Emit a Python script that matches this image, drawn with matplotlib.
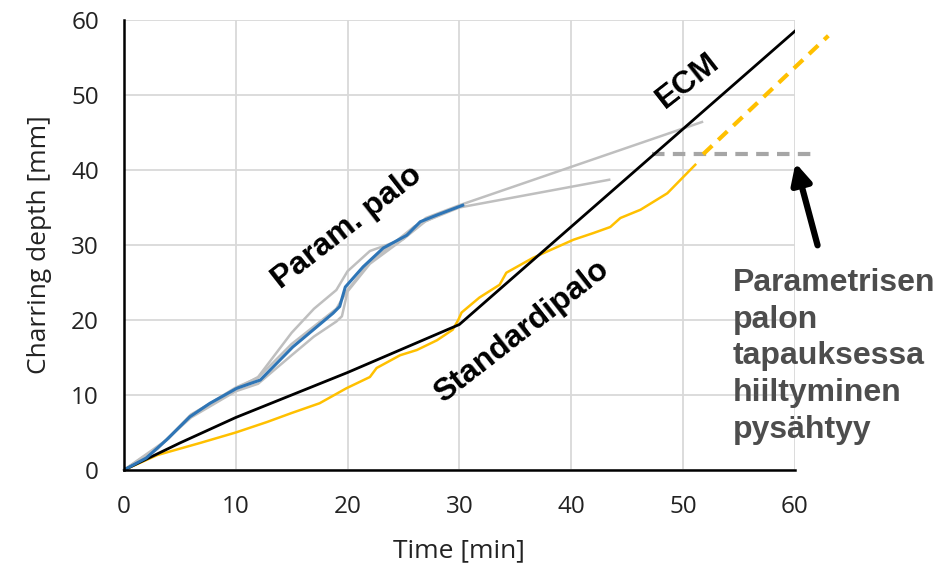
import matplotlib
matplotlib.use("Agg")
import matplotlib.pyplot as plt

# ECM design curve
ecm_t = [0, 5, 10, 15, 20, 25, 30, 60]
ecm_d = [0, 3.6, 7.0, 10.0, 13.0, 16.2, 19.4, 58.5]

# standard fire test (yellow)
std_t = [0, 3, 6.8, 10, 12.8, 15, 17.5, 19.9, 22, 22.6, 24.7, 26.2, 28, 29.4, 29.9, 30.2,
         31.8, 33.6, 34.2, 36.6, 38.1, 40.2, 42, 43.5, 44.4, 46.2, 48.6, 51.1]
std_d = [0, 2.0, 3.6, 5.0, 6.4, 7.6, 8.9, 10.9, 12.4, 13.6, 15.3, 16.0, 17.3, 18.7, 20.0, 21.0,
         23.0, 24.7, 26.3, 28.3, 29.3, 30.7, 31.6, 32.4, 33.6, 34.7, 36.9, 40.7]

# standard fire, extrapolated (dashed yellow)
std_ext_t = [51.8, 63]
std_ext_d = [42.1, 57.9]

# parametric fire, mean (blue)
par_t = [0, 2, 3.8, 5.9, 7.7, 10.1, 12.2, 15.1, 18.7, 19.3, 19.8, 21.4, 23.2, 25.3, 26.5, 28, 30.3]
par_d = [0, 1.6, 4.0, 7.1, 8.9, 10.9, 12.0, 16.4, 20.9, 21.8, 24.4, 27.1, 29.6, 31.3, 33.1, 34.0, 35.3]

# parametric fire, individual tests (grey)
grey_a_t = [0, 3, 6, 10, 12, 15, 17, 19, 20, 22, 25, 27, 30, 51.7]
grey_a_d = [0, 2.8, 7.4, 10.8, 12.4, 18.3, 21.5, 24.0, 26.5, 29.2, 30.8, 33.6, 35.3, 46.4]
grey_b_t = [0, 3, 6, 10, 12, 15, 17, 19, 19.5, 20, 22, 25, 27, 30, 43.4]
grey_b_d = [0, 3.0, 7.0, 10.5, 11.5, 15.3, 17.8, 19.8, 20.5, 23.8, 27.5, 30.8, 33.2, 35.0, 38.7]
grey_c_t = [0, 4, 6, 10, 12, 15, 19, 20, 22, 26, 30]
grey_c_d = [0, 4.2, 7.3, 11.0, 12.3, 16.8, 21.5, 24.0, 27.7, 32.5, 35.2]

# charring stops
stop_t = [47.2, 61.8]
stop_d = [42.1, 42.1]

xticks = [0, 10, 20, 30, 40, 50, 60]
yticks = [0, 10, 20, 30, 40, 50, 60]

fig = plt.figure(figsize=(9.53, 5.68), dpi=100)
ax = fig.add_axes([0.130, 0.1725, 0.704, 0.7923])

grey = "#bfbfbf"
ax.plot(grey_a_t, grey_a_d, color=grey, lw=1.8, clip_on=False, zorder=2)
ax.plot(grey_b_t, grey_b_d, color=grey, lw=1.8, clip_on=False, zorder=2)
ax.plot(grey_c_t, grey_c_d, color=grey, lw=1.8, zorder=2)
ax.plot(stop_t, stop_d, color="#a6a6a6", lw=3, ls=(0, (3, 2)), clip_on=False, zorder=3)
ax.plot(std_t, std_d, color="#ffc000", lw=1.8, zorder=3)
ax.plot(std_ext_t, std_ext_d, color="#ffc000", lw=3, ls=(0, (3, 2)), clip_on=False, zorder=4)
ax.plot(ecm_t, ecm_d, color="black", lw=2.0, zorder=4)
ax.plot(par_t, par_d, color="#2e75b6", lw=2.2, zorder=5)

ax.set_xlim(0, 60)
ax.set_ylim(0, 60)
ax.set_xticks(xticks)
ax.set_yticks(yticks)
ax.grid(True, color="#d9d9d9", lw=1.3)
ax.set_axisbelow(True)
for s in ["top", "right"]:
    ax.spines[s].set_visible(False)
for s in ["left", "bottom"]:
    ax.spines[s].set_linewidth(1.8)
    ax.spines[s].set_zorder(6)
ax.tick_params(length=0, labelsize=17.5, labelcolor="#222222")
ax.tick_params(axis="y", pad=18)
ax.tick_params(axis="x", pad=18)
for lab in ax.get_xticklabels() + ax.get_yticklabels():
    lab.set_family("Open Sans")
ax.set_xlabel("Time [min]", family="Open Sans", fontsize=19, color="#222222", labelpad=14)
ax.set_ylabel("Charring depth [mm]", family="Open Sans", fontsize=19, color="#222222", labelpad=14)

bold = dict(family="Liberation Sans", weight="bold", fontsize=23, rotation_mode="anchor",
            ha="center", va="center")
ax.text(20.0, 32.3, "Param. palo", rotation=38, **bold)
ax.text(35.6, 18.5, "Standardipalo", rotation=38, **bold)
ax.text(50.4, 51.9, "ECM", rotation=38, **bold)

ax.annotate("", xy=(60.0, 41.3), xytext=(62.1, 29.6), annotation_clip=False,
            arrowprops=dict(arrowstyle="-|>", color="black", lw=4.5, mutation_scale=30))

fig.text(0.769, 1 - 268 / 568, "Parametrisen\npalon\ntapauksessa\nhiiltyminen\npysähtyy",
         family="Liberation Sans", weight="bold", fontsize=23, color="#4d4d4d",
         ha="left", va="top", linespacing=1.29)

fig.savefig("out.png", dpi=100)
